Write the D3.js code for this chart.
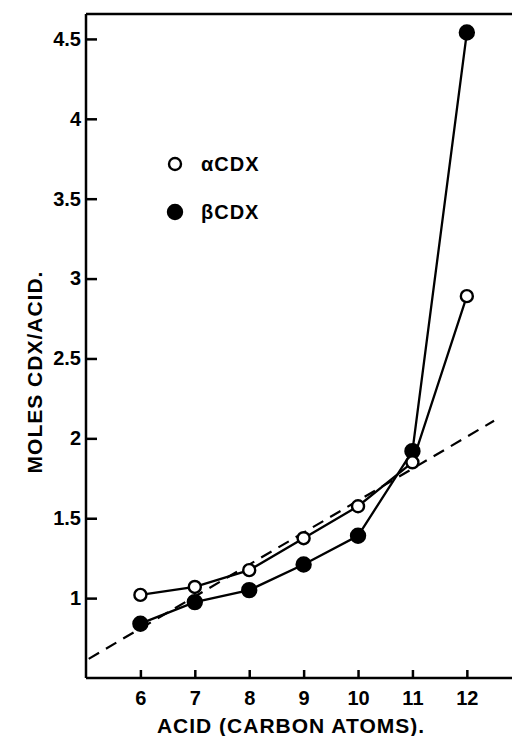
<!DOCTYPE html>
<html>
<head>
<meta charset="utf-8">
<script src="https://cdn.jsdelivr.net/npm/d3@7"></script>
<style>
  body { margin: 0; background: #fff; }
  svg { display: block; font-family: "Liberation Sans", Arial, sans-serif; font-weight: bold; }
  .axis path, .axis line { stroke: #000; stroke-width: 2.5; }
  .axis text { font-size: 20px; fill: #000; font-family: "Liberation Sans", Arial, sans-serif; font-weight: bold; }
</style>
</head>
<body>
<svg id="chart" width="512" height="736"></svg>
<script>
// carbon atoms in the acid
const carbons = [6, 7, 8, 9, 10, 11, 12];
// moles cyclodextrin per mole acid
const alphaCdx = [1.02, 1.07, 1.175, 1.375, 1.575, 1.85, 2.89];
const betaCdx = [0.84, 0.975, 1.05, 1.21, 1.39, 1.92, 4.54];
// dashed reference line (end points)
const refLine = [[5.05, 0.62], [12.5, 2.11]];

const xTicks = [6, 7, 8, 9, 10, 11, 12];
const yTicks = [1, 1.5, 2, 2.5, 3, 3.5, 4, 4.5];

const svg = d3.select("#chart");

const x = d3.scaleLinear().domain([5, 12.83]).range([86, 512]);
const y = d3.scaleLinear().domain([0.5, 4.656]).range([678, 14]);

// top frame line
svg.append("line")
  .attr("x1", x(5)).attr("x2", 512)
  .attr("y1", y(4.656)).attr("y2", y(4.656))
  .attr("stroke", "#000").attr("stroke-width", 2.5);

svg.append("g")
  .attr("class", "axis")
  .attr("transform", `translate(0,${y(0.5)})`)
  .call(d3.axisBottom(x).tickValues(xTicks).tickSizeInner(-8).tickSizeOuter(0).tickPadding(13))
  .call(g => g.select(".domain").attr("d", `M${x(5)},0H512`));

svg.append("g")
  .attr("class", "axis")
  .attr("transform", `translate(${x(5)},0)`)
  .call(d3.axisLeft(y).tickValues(yTicks).tickSizeInner(-11).tickSizeOuter(0).tickPadding(5)
    .tickFormat(d => String(d)))
  .call(g => g.select(".domain").attr("d", `M0,${y(0.5)}V${y(4.656)}`));

const line = d3.line().x(d => x(d[0])).y(d => y(d[1]));

svg.append("path")
  .datum(refLine)
  .attr("d", line)
  .attr("fill", "none")
  .attr("stroke", "#000")
  .attr("stroke-width", 2.2)
  .attr("stroke-dasharray", "12,8");

const series = [
  { vals: betaCdx, fill: "#000", r: 7 },
  { vals: alphaCdx, fill: "#fff", r: 6 }
];

series.forEach(s => {
  const pts = carbons.map((c, i) => [c, s.vals[i]]);
  svg.append("path")
    .datum(pts)
    .attr("d", line)
    .attr("fill", "none")
    .attr("stroke", "#000")
    .attr("stroke-width", 2.3);
  svg.selectAll(null)
    .data(pts)
    .enter()
    .append("circle")
    .attr("cx", d => x(d[0]))
    .attr("cy", d => y(d[1]))
    .attr("r", s.r)
    .attr("fill", s.fill)
    .attr("stroke", "#000")
    .attr("stroke-width", 2.4);
});

// legend
const legend = [
  { label: "\u03b1CDX", fill: "#fff", r: 6, yy: 164 },
  { label: "\u03b2CDX", fill: "#000", r: 7, yy: 212 }
];
legend.forEach(l => {
  svg.append("circle")
    .attr("cx", 175).attr("cy", l.yy).attr("r", l.r)
    .attr("fill", l.fill).attr("stroke", "#000").attr("stroke-width", 2.4);
  svg.append("text")
    .attr("x", 201).attr("y", l.yy + 7)
    .attr("font-size", 20)
    .attr("letter-spacing", 1)
    .text(l.label);
});

// axis titles
svg.append("text")
  .attr("x", 291).attr("y", 733)
  .attr("text-anchor", "middle")
  .attr("font-size", 21)
  .attr("letter-spacing", 1)
  .text("ACID (CARBON ATOMS).");

svg.append("text")
  .attr("transform", "translate(42,372) rotate(-90)")
  .attr("text-anchor", "middle")
  .attr("font-size", 21)
  .attr("letter-spacing", 1)
  .text("MOLES CDX/ACID.");
</script>
</body>
</html>
